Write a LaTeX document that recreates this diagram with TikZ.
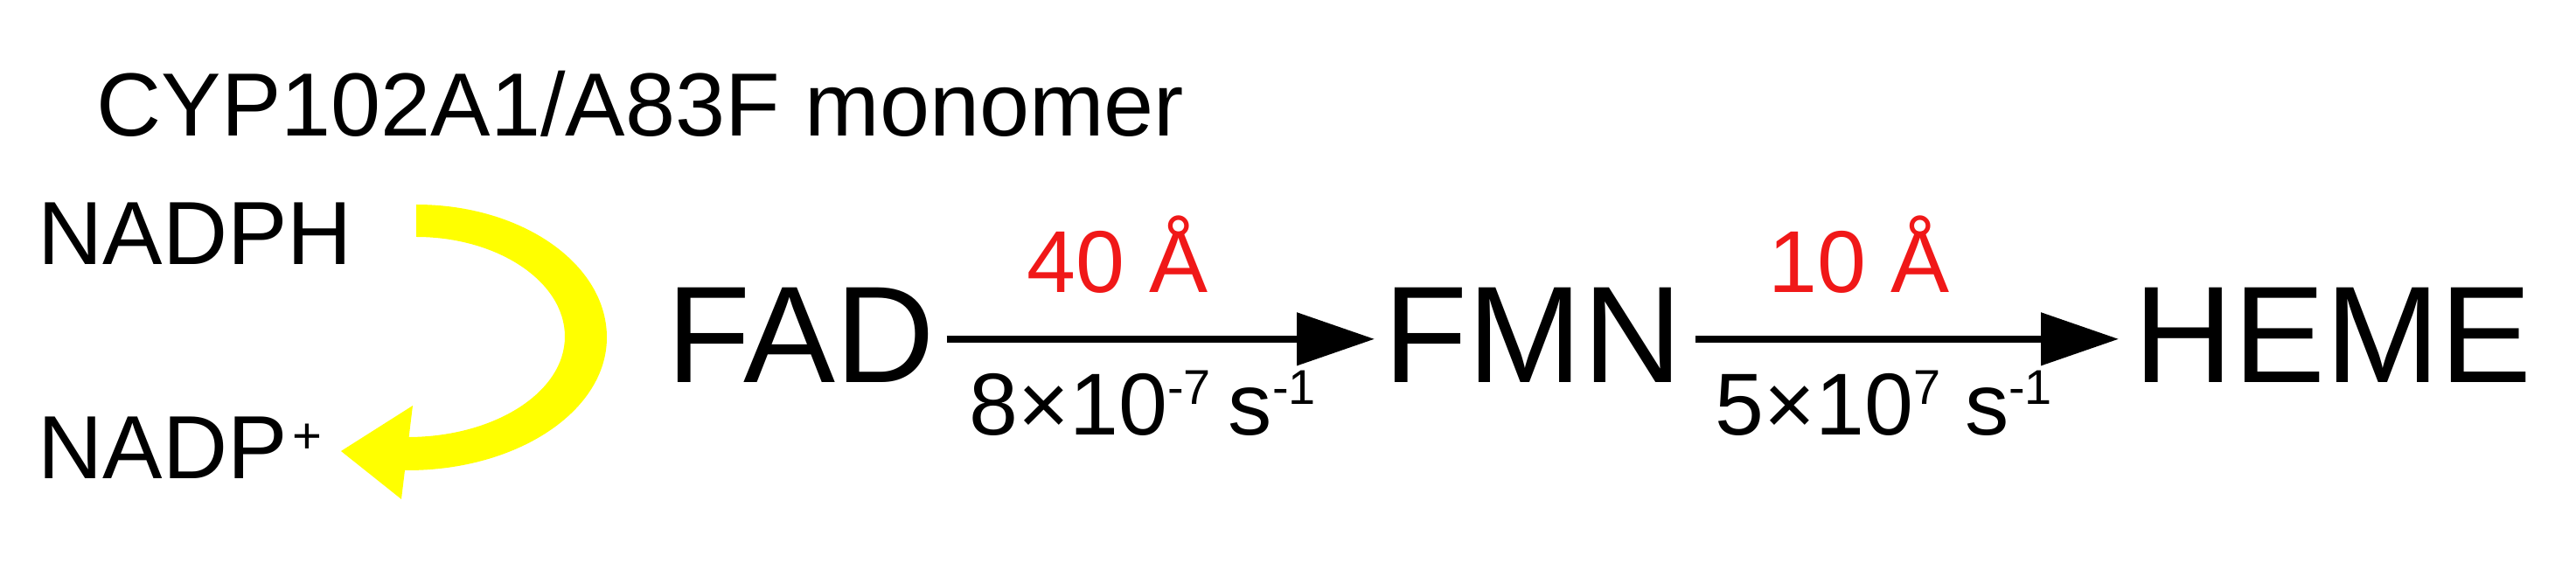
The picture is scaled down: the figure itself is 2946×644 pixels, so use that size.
\documentclass[tikz,border=0pt]{standalone}
\usepackage{fontspec}
\setmainfont{Liberation Sans}
\usetikzlibrary{arrows.meta}
\definecolor{labred}{RGB}{240,24,24}
\definecolor{cycyellow}{RGB}{255,255,0}
\newcommand{\mysup}[1]{\raisebox{10pt}{\fontsize{15.9pt}{16pt}\selectfont #1}}
\newcommand{\myplus}[1]{\kern1.7pt\raisebox{8.5pt}{\fontsize{16.5pt}{17pt}\selectfont #1}}
\begin{document}
\begin{tikzpicture}[x=0.1mm,y=-0.1mm,
  txt/.style={inner sep=0pt, anchor=base west, font=\fontsize{29.2pt}{30pt}\selectfont},
  lab/.style={inner sep=0pt, anchor=base west, font=\fontsize{28.6pt}{29pt}\selectfont},
  big/.style={inner sep=0pt, anchor=base west, font=\fontsize{44.8pt}{46pt}\selectfont},
  dist/.style={lab, text=labred},
  arr/.style={line width=0.8mm, -{Triangle[length=8.9mm,width=5.9mm]}},
  yband/.style={fill=cycyellow, draw=none}]
\useasboundingbox (0,0) rectangle (2946,644);

% title
\node[txt] (title) at (110,156) {CYP102A1/A83F monomer};

% cofactor
\node[txt] (nadph) at (43,303) {NADPH};
\node[txt] (nadp) at (43,548) {NADP\myplus{+}};

% yellow curved arrow from NADPH to NADP+
\coordinate (ys) at (476,253);
\coordinate (ye) at (390,516);
\fill[yband] (476,234) .. controls (597,234) and (694,302) .. (694,386)
             .. controls (694,470) and (592,538) .. (466,538)
             -- (452,538) -- (452,500) -- (466,500)
             .. controls (565,500) and (646,449) .. (646,385)
             .. controls (646,322) and (569,271) .. (476,271) -- cycle;
\fill[yband] (472,464) -- (ye) -- (459,571) -- cycle;

% chain
\node[big] (fad) at (762,438) {FAD};
\node[big] (fmn) at (1582,438) {FMN};
\node[big] (heme) at (2440,438) {HEME};

\draw[arr] ([shift={(13,4)}]fad.east) -- ([shift={(-10,4)}]fmn.west);
\draw[arr] ([shift={(15,4)}]fmn.east) -- ([shift={(-17,4)}]heme.west);

\node[dist] (d1) at (1174,335) {40 Å};
\node[dist] (d2) at (2022,335) {10 Å};

\node[lab] (k1) at (1108,498) {8×10\mysup{-7}\hspace{0.2em}s\mysup{-1}};
\node[lab] (k2) at (1961,498) {5×10\mysup{7} s\mysup{-1}};
\end{tikzpicture}
\end{document}
